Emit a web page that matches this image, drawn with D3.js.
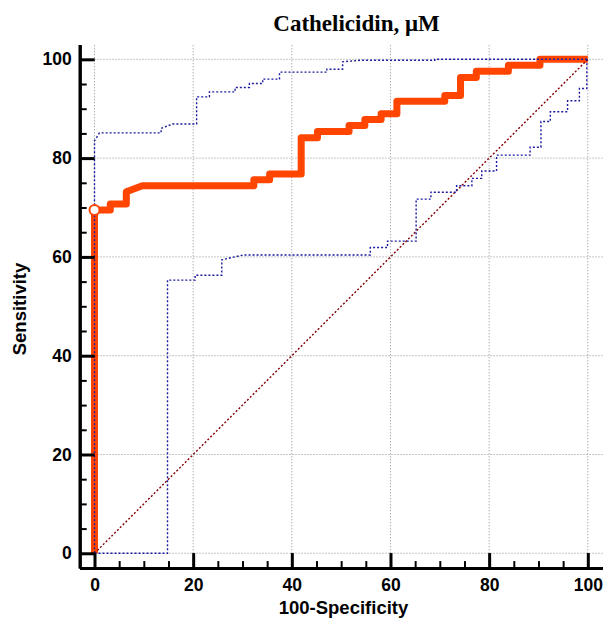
<!DOCTYPE html>
<html>
<head>
<meta charset="utf-8">
<script src="https://d3js.org/d3.v7.min.js"></script>
<style>
  body { margin: 0; background: #fff; }
  svg { display: block; }
  .tick text { font-family: "Liberation Sans", Arial, sans-serif; font-weight: bold; font-size: 17.5px; fill: #000; }
</style>
</head>
<body>
<svg id="chart" width="603" height="624"></svg>
<script>
// ROC curve vertices [100-Specificity, Sensitivity]
const rocPoints = [
  [0, 0], [0, 69.5], [3.2, 69.5], [3.2, 70.7], [6.45, 70.7], [6.45, 73.2], [9.7, 74.4],
  [32.3, 74.4], [32.3, 75.6], [35.5, 75.6], [35.5, 76.8], [41.9, 76.8], [41.9, 84.1],
  [45.2, 84.1], [45.2, 85.4], [51.6, 85.4], [51.6, 86.6], [54.8, 86.6], [54.8, 87.8],
  [58.1, 87.8], [58.1, 89.0], [61.3, 89.0], [61.3, 91.5], [71.0, 91.5], [71.0, 92.7],
  [74.2, 92.7], [74.2, 96.3], [77.4, 96.3], [77.4, 97.6], [83.9, 97.6], [83.9, 98.8],
  [90.3, 98.8], [90.3, 100], [100, 100]
];
// criterion point (open circle)
const criterion = [0, 69.5];

// 95% confidence bounds
const upperBand = [
  [0, 0], [0, 83.5], [1.0, 85.1], [13.5, 85.1], [13.5, 86.0], [15.8, 86.9], [20.7, 86.9],
  [20.7, 92.4], [23.3, 92.4], [23.3, 93.4], [28.5, 93.4], [28.5, 94.3], [31.4, 94.3],
  [31.4, 95.1], [34.1, 95.1], [34.1, 96.0], [37.5, 96.0], [37.5, 97.4], [47.1, 97.4],
  [47.1, 98.0], [50.3, 98.0], [50.3, 99.5], [53.8, 99.8], [69, 99.8], [69, 100], [100, 100]
];
const lowerBand = [
  [0, 0], [14.8, 0], [14.8, 55.3], [20.4, 55.3], [20.4, 56.3], [25.8, 56.3], [25.8, 59.4],
  [30.2, 60.4], [55.9, 60.4], [55.9, 61.9], [59.4, 61.9], [59.4, 63.2], [65.2, 63.2],
  [65.2, 71.7], [68.2, 71.7], [68.2, 73.1], [73.4, 73.1], [73.4, 74.4], [76.5, 74.4],
  [76.5, 75.9], [78.5, 75.9], [78.5, 77.4], [81.5, 77.4], [81.5, 80.6], [88.3, 80.6],
  [88.3, 82.2], [90.5, 82.2], [90.5, 87.4], [92.4, 87.4], [92.4, 89.4], [95.9, 89.4],
  [95.9, 91.6], [98.3, 91.6], [98.3, 94.1], [99.8, 94.1], [99.8, 100]
];
const diagonal = [[0, 0], [100, 100]];

const majorTicks = [0, 20, 40, 60, 80, 100];
const minorTicks = d3.range(0, 101, 5).filter(v => v % 20 !== 0);

const svg = d3.select("#chart");

const x = d3.scaleLinear().domain([-3, 103]).range([79.7, 602.6]);
const y = d3.scaleLinear().domain([-3, 103]).range([568.1, 44.5]);

// grid
const grid = svg.append("g");
grid.selectAll(".gx").data(majorTicks).enter().append("line")
  .attr("x1", d => x(d)).attr("x2", d => x(d))
  .attr("y1", y(0)).attr("y2", y(103))
  .attr("stroke", "#8c8c8c").attr("stroke-width", 1).attr("stroke-dasharray", "1,2");
grid.selectAll(".gy").data(majorTicks).enter().append("line")
  .attr("y1", d => y(d)).attr("y2", d => y(d))
  .attr("x1", x(0)).attr("x2", x(103))
  .attr("stroke", "#8c8c8c").attr("stroke-width", 1).attr("stroke-dasharray", "1,2");

const line = d3.line().x(d => x(d[0])).y(d => y(d[1]));

// ROC curve
svg.append("path").datum(rocPoints)
  .attr("d", line).attr("fill", "none")
  .attr("stroke", "#ff4500").attr("stroke-width", 7)
  .attr("stroke-linejoin", "round");

// diagonal reference
svg.append("path").datum(diagonal)
  .attr("d", line).attr("fill", "none")
  .attr("stroke", "#800000").attr("stroke-width", 1.4)
  .attr("stroke-dasharray", "2,2");

// confidence bounds
[upperBand, lowerBand].forEach(b => {
  svg.append("path").datum(b)
    .attr("d", line).attr("fill", "none")
    .attr("stroke", "#1a1aa0").attr("stroke-width", 1.4)
    .attr("stroke-dasharray", "2,2");
});

svg.append("circle")
  .attr("cx", x(criterion[0])).attr("cy", y(criterion[1])).attr("r", 5)
  .attr("fill", "#fff").attr("stroke", "#ff4500").attr("stroke-width", 2);

// axes
const yAxis = svg.append("g").attr("transform", `translate(${x(-3)},0)`)
  .call(d3.axisLeft(y).tickValues(majorTicks).tickSize(-15).tickSizeOuter(0).tickPadding(8));
yAxis.append("g").call(d3.axisLeft(y).tickValues(minorTicks).tickSize(-7).tickSizeOuter(0).tickFormat(""));

const xAxis = svg.append("g").attr("transform", `translate(0,${y(-3)})`)
  .call(d3.axisBottom(x).tickValues(majorTicks).tickSize(-15).tickSizeOuter(0).tickPadding(10));
xAxis.append("g").call(d3.axisBottom(x).tickValues(minorTicks).tickSize(-7).tickSizeOuter(0).tickFormat(""));

svg.selectAll(".domain").attr("stroke", "#000").attr("stroke-width", 3);
yAxis.selectAll(":scope > .tick line").attr("stroke", "#000").attr("stroke-width", 3);
xAxis.selectAll(":scope > .tick line").attr("stroke", "#000").attr("stroke-width", 3);
svg.selectAll("g g .tick line").attr("stroke", "#000").attr("stroke-width", 2);

// titles
svg.append("text")
  .attr("x", 356.5).attr("y", 31).attr("text-anchor", "middle")
  .style("font-family", "'Liberation Serif', 'Times New Roman', serif")
  .style("font-weight", "bold").style("font-size", "23px")
  .text("Cathelicidin, μM");

svg.append("text")
  .attr("x", 343.5).attr("y", 614).attr("text-anchor", "middle")
  .style("font-family", "'Liberation Sans', Arial, sans-serif")
  .style("font-weight", "bold").style("font-size", "18.5px")
  .text("100-Specificity");

svg.append("text")
  .attr("transform", "translate(25.5,309) rotate(-90)").attr("text-anchor", "middle")
  .style("font-family", "'Liberation Sans', Arial, sans-serif")
  .style("font-weight", "bold").style("font-size", "18.5px")
  .text("Sensitivity");
</script>
</body>
</html>
